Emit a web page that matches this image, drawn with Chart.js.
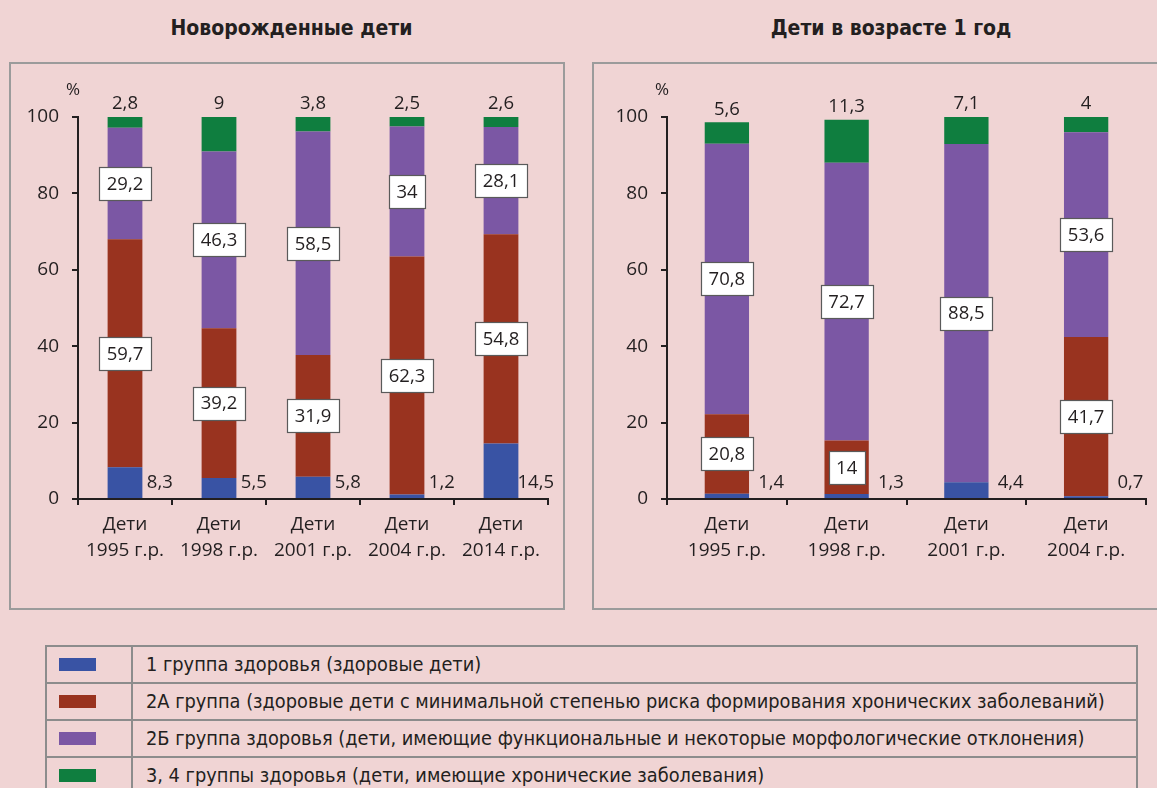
<!DOCTYPE html>
<html lang="ru">
<head>
<meta charset="utf-8">
<script src="https://cdn.jsdelivr.net/npm/chart.js@4.4.1/dist/chart.umd.min.js"></script>
<style>
  html, body { margin: 0; padding: 0; }
  body {
    width: 1157px; height: 788px; position: relative; overflow: hidden;
    background: #f0d4d4; color: #231f20;
    font-family: "Liberation Sans Narrow", "DejaVu Sans Condensed", sans-serif;
  }
  .title { position: absolute; top: 13px; line-height: 30px; font-size: 21px; font-weight: bold; text-align: center; }
  .panel { position: absolute; top: 62px; height: 548px; border: 2px solid #9b9b9b; box-sizing: border-box; }
  canvas { position: absolute; }
  table.legend { position: absolute; left: 45px; top: 645px; width: 1093px; border-collapse: collapse; }
  table.legend td { border: 2px solid #8c8c8c; height: 35px; padding: 0; font-size: 19.8px; }
  table.legend td.sw { width: 86px; padding-left: 12px; box-sizing: border-box; }
  table.legend td.sw span { display: block; width: 37px; height: 13px; }
  table.legend td.txt { padding-left: 13px; }
</style>
</head>
<body>
<div class="title" style="left:10px;width:563px">Новорожденные дети</div>
<div class="title" style="left:593px;width:596px">Дети в возрасте 1 год</div>
<div class="panel" style="left:9px;width:556px"></div>
<div class="panel" style="left:592px;width:600px"></div>
<canvas id="newborn" width="553" height="545" style="left:10px;top:63px"></canvas>
<canvas id="oneYear" width="564" height="545" style="left:593px;top:63px"></canvas>
<table class="legend" id="legend"></table>

<script>
// ---- data ----
const groupNames = [
  '1 группа здоровья (здоровые дети)',
  '2А группа (здоровые дети с минимальной степенью риска формирования хронических заболеваний)',
  '2Б группа здоровья (дети, имеющие функциональные и некоторые морфологические отклонения)',
  '3, 4 группы здоровья (дети, имеющие хронические заболевания)'
];
const groupColors = ['#3953a4', '#99331f', '#7b57a4', '#0f7e3f'];

const newbornLabels = [
  ['Дети', '1995 г.р.'], ['Дети', '1998 г.р.'], ['Дети', '2001 г.р.'],
  ['Дети', '2004 г.р.'], ['Дети', '2014 г.р.']
];
const newbornG1  = [8.3, 5.5, 5.8, 1.2, 14.5];
const newbornG2A = [59.7, 39.2, 31.9, 62.3, 54.8];
const newbornG2B = [29.2, 46.3, 58.5, 34, 28.1];
const newbornG34 = [2.8, 9, 3.8, 2.5, 2.6];

const oneYearLabels = [
  ['Дети', '1995 г.р.'], ['Дети', '1998 г.р.'], ['Дети', '2001 г.р.'], ['Дети', '2004 г.р.']
];
const oneYearG1  = [1.4, 1.3, 4.4, 0.7];
const oneYearG2A = [20.8, 14, null, 41.7];
const oneYearG2B = [70.8, 72.7, 88.5, 53.6];
const oneYearG34 = [5.6, 11.3, 7.1, 4];

const yTicks = [0, 20, 40, 60, 80, 100];

// ---- look ----
const INK = '#231f20';
const FAMILY = '"Open Sans", "Noto Sans", sans-serif';
const AXIS_FONT = { family: FAMILY, size: 19 };

const fmt = v => String(v).replace('.', ',');

// value labels drawn the way the source spreadsheet placed them
const segLabels = {
  id: 'segLabels',
  afterDatasetsDraw(chart) {
    const { ctx, scales: { y } } = chart;
    ctx.save();
    ctx.font = '18.5px ' + FAMILY;
    ctx.textAlign = 'center';
    ctx.textBaseline = 'middle';
    chart.data.datasets.forEach((ds, di) => {
      const meta = chart.getDatasetMeta(di);
      meta.data.forEach((bar, i) => {
        const v = ds.data[i];
        if (v == null) return;
        const txt = fmt(v);
        if (di === 0) {
          ctx.fillStyle = INK;
          ctx.fillText(txt, bar.x + bar.width, bar.base - 15);
        } else if (di === 3) {
          ctx.fillStyle = INK;
          ctx.fillText(txt, bar.x, bar.y - 13);
        } else {
          const w = Math.round(ctx.measureText(txt).width + 15);
          const h = 33;
          const cy = (bar.y + bar.base) / 2;
          const bx = Math.round(bar.x - w / 2) + 0.5;
          const by = Math.round(cy - h / 2) + 0.5;
          ctx.fillStyle = '#ffffff';
          ctx.fillRect(bx, by, w, h);
          ctx.strokeStyle = '#5a5a5a';
          ctx.lineWidth = 1.2;
          ctx.strokeRect(bx, by, w, h);
          ctx.fillStyle = INK;
          ctx.fillText(txt, bar.x, cy + 1);
        }
      });
    });
    ctx.fillStyle = INK;
    ctx.font = '17px ' + FAMILY;
    ctx.fillText('%', y.right - 5, y.getPixelForValue(100) - 27);
    ctx.restore();
  }
};

function makeChart(id, labels, series, yWidth, padRight) {
  const datasets = series.map((data, k) => ({
    label: groupNames[k],
    data: data,
    backgroundColor: groupColors[k],
    borderWidth: 0,
    barPercentage: 0.37,
    categoryPercentage: 1
  }));
  return new Chart(document.getElementById(id), {
    type: 'bar',
    data: { labels: labels, datasets: datasets },
    plugins: [segLabels],
    options: {
      responsive: false,
      animation: false,
      layout: { padding: { top: 54, right: padRight, left: 0, bottom: 0 } },
      plugins: { legend: { display: false }, tooltip: { enabled: false } },
      scales: {
        x: {
          stacked: true,
          afterFit: s => { s.height = 109; },
          grid: { drawOnChartArea: false, drawTicks: true, tickLength: 6, color: INK, lineWidth: 2, offset: true },
          border: { display: true, color: INK, width: 2 },
          ticks: { color: INK, font: { ...AXIS_FONT, lineHeight: '26px' }, padding: 7, maxRotation: 0 }
        },
        y: {
          stacked: true,
          min: 0, max: 100,
          afterFit: s => { s.width = yWidth; },
          afterBuildTicks: s => { s.ticks = yTicks.map(v => ({ value: v })); },
          grid: { drawOnChartArea: false, drawTicks: true, tickLength: 6, color: INK, lineWidth: 2 },
          border: { display: true, color: INK, width: 2 },
          ticks: { color: INK, font: AXIS_FONT, padding: 13 }
        }
      }
    }
  });
}

makeChart('newborn', newbornLabels, [newbornG1, newbornG2A, newbornG2B, newbornG34], 68, 15);
makeChart('oneYear', oneYearLabels, [oneYearG1, oneYearG2A, oneYearG2B, oneYearG34], 74, 11);

// legend table
const table = document.getElementById('legend');
groupNames.forEach((name, k) => {
  const tr = document.createElement('tr');
  const sw = document.createElement('td');
  sw.className = 'sw';
  const box = document.createElement('span');
  box.style.background = groupColors[k];
  sw.appendChild(box);
  const tx = document.createElement('td');
  tx.className = 'txt';
  tx.textContent = name;
  tr.appendChild(sw);
  tr.appendChild(tx);
  table.appendChild(tr);
});
</script>
</body>
</html>
